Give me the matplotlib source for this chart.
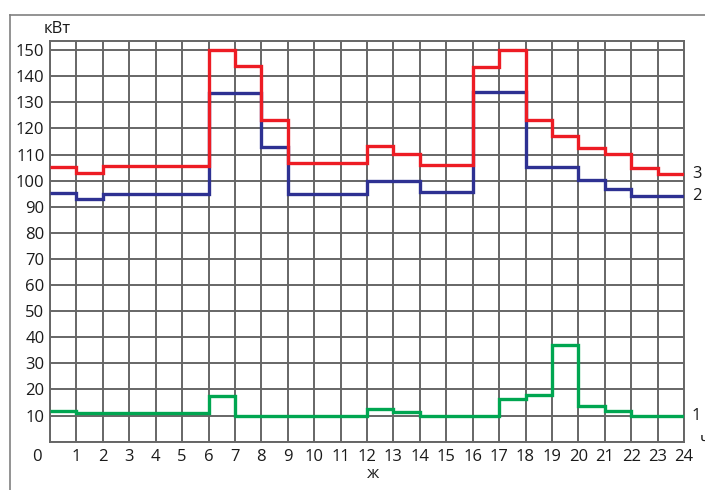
import matplotlib
matplotlib.use("Agg")
import matplotlib.pyplot as plt
from matplotlib.lines import Line2D
import numpy as np

plt.rcParams["font.family"] = ["Open Sans", "DejaVu Sans"]

# hourly load, kW
hours = np.arange(0, 25)
load_1 = [11.8, 10.9, 10.9, 10.9, 10.9, 10.9, 17.5, 10, 10, 10, 10, 10,
          12.6, 11.5, 10, 10, 10, 16.2, 17.9, 37, 13.8, 11.9, 10, 10]
load_2 = [95.2, 92.8, 95, 95, 95, 95, 133.5, 133.5, 113, 94.8, 94.8, 94.8,
          100, 100, 95.6, 95.6, 133.8, 133.8, 105.1, 105.1, 100.3, 96.7, 94.1, 94.1]
load_3 = [105.1, 103, 105.6, 105.6, 105.6, 105.6, 150, 143.8, 123.3, 106.9, 106.9, 106.9,
          113.3, 110.2, 106.1, 106.1, 143.7, 150, 123.3, 117.1, 112.6, 110.1, 105, 102.4]
y_ticks = list(range(10, 160, 10))
x_ticks = list(range(1, 25))

fig = plt.figure(figsize=(7.05, 4.9), dpi=100)
ax = fig.add_axes([50 / 705, 48.3 / 490, 634 / 705, 400.7 / 490])

grid_c = "#666666"
for h in hours:
    ax.axvline(h, color=grid_c, lw=1.4, zorder=1)
for v in range(0, 160, 10):
    ax.axhline(v, color=grid_c, lw=1.4, zorder=1)

ax.stairs(load_2, hours, color="#2e3192", lw=2.4, zorder=3, baseline=None)
ax.stairs(load_3, hours, color="#ed1c24", lw=2.4, zorder=4, baseline=None)
ax.stairs(load_1, hours, color="#00a651", lw=2.4, zorder=4, baseline=None)

fs = 12
tc = "#1a1a1a"
ax.set_xlim(0, 24)
ax.set_ylim(0, 153.5)
ax.set_xticks(x_ticks)
ax.set_xticklabels([str(t) for t in x_ticks])
ax.set_yticks(y_ticks)
ax.set_yticklabels([str(t) for t in y_ticks])
ax.tick_params(length=0, labelsize=fs, colors=tc)
ax.tick_params(axis="x", pad=5)
ax.tick_params(axis="y", pad=4)
for s in ax.spines.values():
    s.set_color(grid_c)
    s.set_linewidth(1.4)

ax.text(-0.5, -6.0, "0", ha="center", va="center", fontsize=fs, color=tc)
ax.text(24.3, 102.4, "3", ha="left", va="center", fontsize=fs, color=tc)
ax.text(24.3, 94.1, "2", ha="left", va="center", fontsize=fs, color=tc)
ax.text(24.3, 10, "1", ha="left", va="center", fontsize=fs, color=tc)

fig.text(57 / 705, 1 - 29 / 490, "кВт", ha="center", va="center", fontsize=fs, color=tc)
fig.text(373 / 705, 1 - 474 / 490, "ж", ha="center", va="center", fontsize=fs, color=tc)
fig.text(700 / 705, 1 - 440 / 490, "ч", ha="left", va="center", fontsize=fs, color=tc)

# outer frame
fig.add_artist(Line2D([10 / 705, 10 / 705], [0, 1 - 15 / 490], color="#808080", lw=1.2))
fig.add_artist(Line2D([10 / 705, 1], [1 - 15 / 490, 1 - 15 / 490], color="#808080", lw=1.2))

fig.savefig("out.png", dpi=100)
